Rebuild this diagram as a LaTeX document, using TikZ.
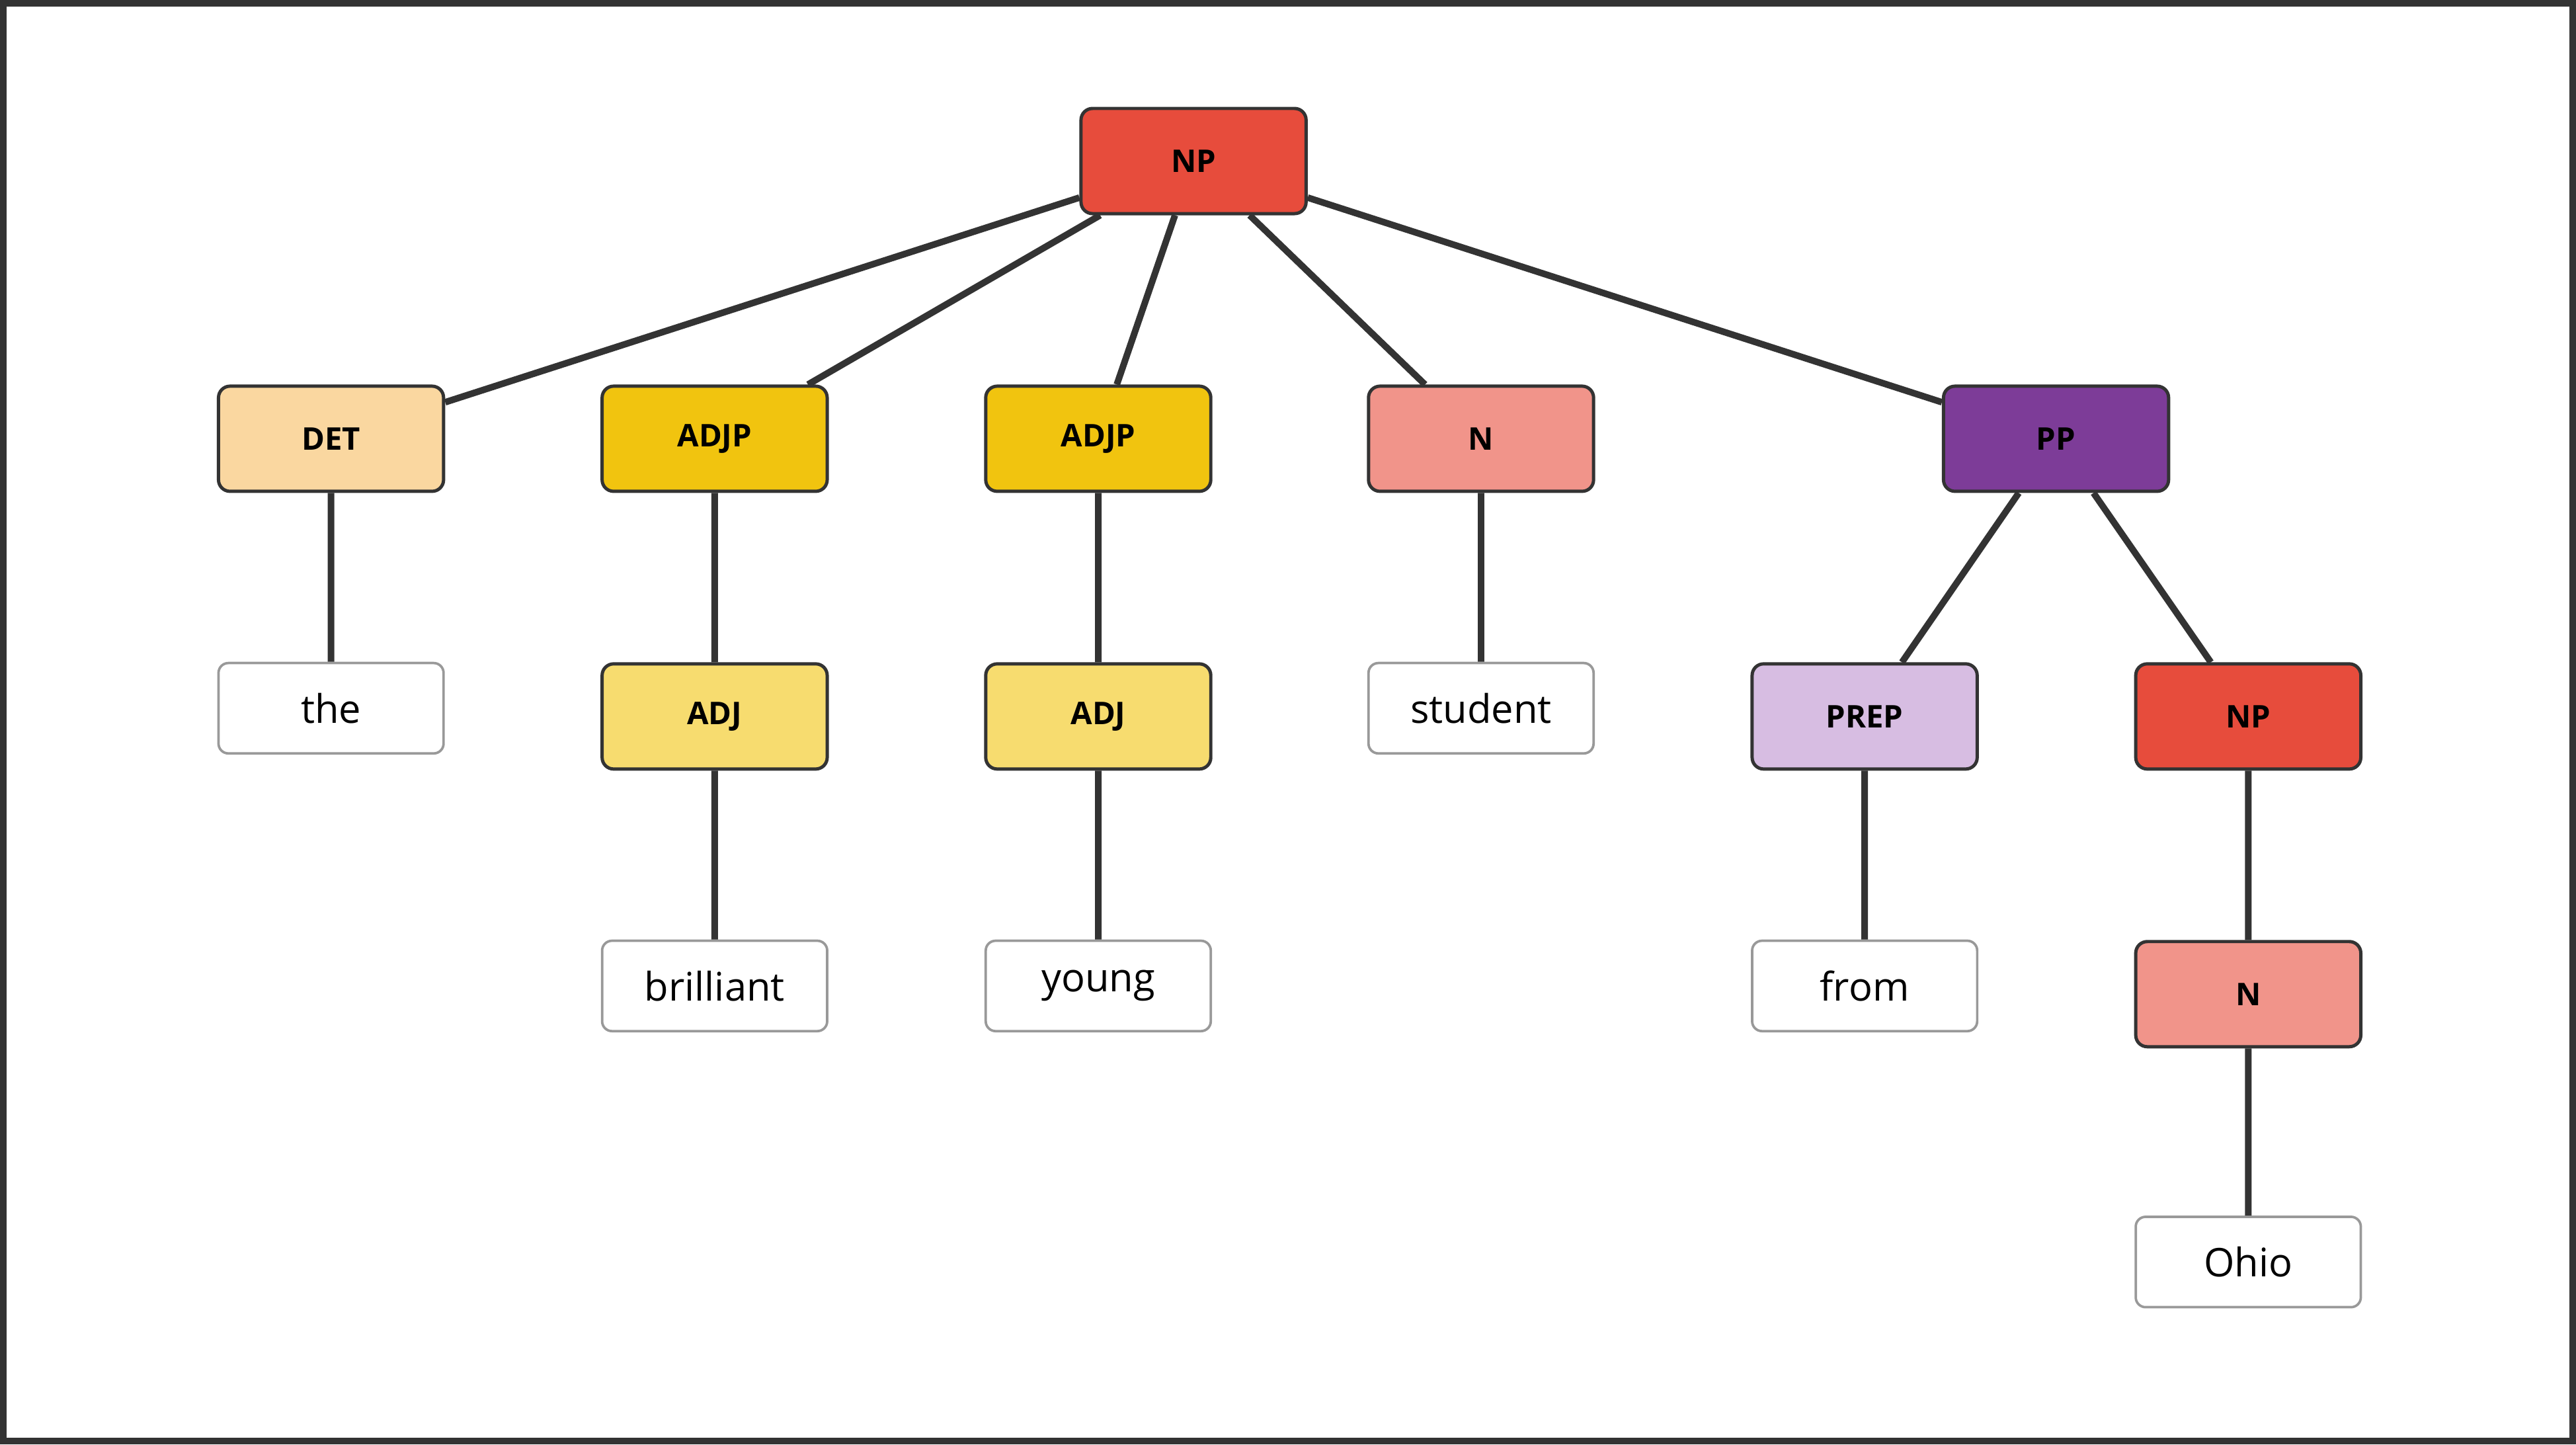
\documentclass[tikz,border=0pt]{standalone}
\usepackage{fontspec}
\setmainfont{Open Sans}
\definecolor{cNP}{HTML}{E74C3C}
\definecolor{cDET}{HTML}{FAD7A0}
\definecolor{cADJP}{HTML}{F1C40F}
\definecolor{cADJ}{HTML}{F7DC6F}
\definecolor{cN}{HTML}{F1948A}
\definecolor{cPP}{HTML}{7D3C98}
\definecolor{cPREP}{HTML}{D7BDE2}
\definecolor{edge}{HTML}{333333}
\begin{document}
\begin{tikzpicture}[x=1pt,y=-1pt,
  cat/.style={draw=edge,line width=2pt,rounded corners=7pt,minimum width=137pt,minimum height=64pt,inner sep=0pt,font=\fontsize{19}{22}\selectfont\bfseries},
  word/.style={draw=black!40,line width=1.5pt,fill=white,rounded corners=6pt,minimum width=137pt,minimum height=55pt,inner sep=0pt,font=\fontsize{24}{28}\selectfont},
  e/.style={draw=edge,line width=4pt}]
\draw[edge,line width=4pt,fill=white] (2,2) rectangle (1566,877);
\node[cat,fill=cNP] (np) at (726.5,98) {NP};
\node[cat,fill=cDET] (det) at (201.5,267) {DET};
\node[cat,fill=cADJP] (adjp1) at (435,267) {ADJP};
\node[cat,fill=cADJP] (adjp2) at (668.5,267) {ADJP};
\node[cat,fill=cN] (n1) at (901.5,267) {N};
\node[cat,fill=cPP] (pp) at (1251.5,267) {PP};
\node[word] (the) at (201.5,431) {the};
\node[cat,fill=cADJ] (adj1) at (435,436) {ADJ};
\node[cat,fill=cADJ] (adj2) at (668.5,436) {ADJ};
\node[word] (student) at (901.5,431) {student};
\node[cat,fill=cPREP] (prep) at (1135,436) {PREP};
\node[cat,fill=cNP] (np2) at (1368.5,436) {NP};
\node[word] (brilliant) at (435,600) {brilliant};
\node[word] (young) at (668.5,600) {young};
\node[word] (from) at (1135,600) {from};
\node[cat,fill=cN] (n2) at (1368.5,605) {N};
\node[word] (ohio) at (1368.5,768) {Ohio};
\begin{scope}[on background layer/.try]
\end{scope}
\begin{pgfinterruptboundingbox}\end{pgfinterruptboundingbox}
\path[e] (np) -- (det) (np) -- (adjp1) (np) -- (adjp2) (np) -- (n1) (np) -- (pp)
 (det) -- (the) (adjp1) -- (adj1) (adjp2) -- (adj2) (n1) -- (student)
 (pp) -- (prep) (pp) -- (np2) (adj1) -- (brilliant) (adj2) -- (young)
 (prep) -- (from) (np2) -- (n2) (n2) -- (ohio);
\end{tikzpicture}
\end{document}
